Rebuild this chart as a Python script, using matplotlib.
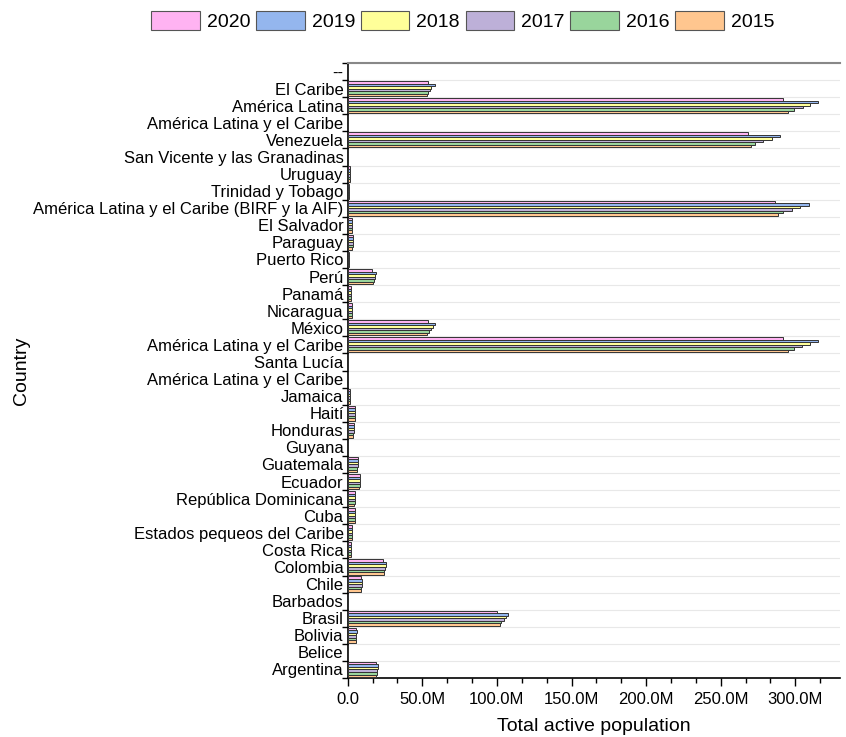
import numpy as np
import matplotlib
matplotlib.use('Agg')
import matplotlib.pyplot as plt
from matplotlib.patches import Patch
from matplotlib.ticker import FuncFormatter, AutoMinorLocator, FixedLocator

plt.rcParams['font.family'] = ['Liberation Sans', 'DejaVu Sans']

# categories listed bottom -> top, as drawn on the y axis
countries = ['Argentina', 'Belice', 'Bolivia', 'Brasil', 'Barbados', 'Chile', 'Colombia',
             'Costa Rica', 'Estados pequeos del Caribe', 'Cuba', 'República Dominicana',
             'Ecuador', 'Guatemala', 'Guyana', 'Honduras', 'Haití', 'Jamaica',
             'América Latina y el Caribe', 'Santa Lucía', 'América Latina y el Caribe',
             'México', 'Nicaragua', 'Panamá', 'Perú', 'Puerto Rico', 'Paraguay',
             'El Salvador', 'América Latina y el Caribe (BIRF y la AIF)',
             'Trinidad y Tobago', 'Uruguay', 'San Vicente y las Granadinas', 'Venezuela',
             'América Latina y el Caribe', 'América Latina', 'El Caribe', '--']

years = ['2020', '2019', '2018', '2017', '2016', '2015']
colors = ['#FFB3F2', '#94B6EE', '#FFFF99', '#BDB0D8', '#99D59C', '#FFC68F']

# values in millions
v2020 = [19.0, 0.17, 5.6, 100.0, 0.14, 8.9, 23.5, 2.3, 3.0, 5.1, 4.8, 8.0, 6.8, 0.29, 4.0,
         5.0, 1.4, 0, 0.09, 292.0, 53.7, 3.0, 1.9, 16.5, 1.1, 3.4, 2.8, 286.6, 0.62, 1.7,
         0.05, 268.0, 0, 292.0, 53.7, 0]
v2019 = [20.6, 0.18, 5.9, 107.5, 0.15, 9.9, 26.0, 2.5, 3.2, 5.2, 5.0, 8.4, 7.0, 0.30, 4.3,
         5.1, 1.5, 0, 0.09, 315.0, 58.4, 3.1, 2.1, 19.0, 1.2, 3.6, 3.0, 309.0, 0.66, 1.8,
         0.05, 290.0, 0, 315.0, 58.4, 0]
v2018 = [20.3, 0.17, 5.8, 106.0, 0.15, 9.7, 25.5, 2.4, 3.2, 5.2, 4.9, 8.3, 6.8, 0.30, 4.1,
         5.0, 1.5, 0, 0.09, 310.0, 57.0, 3.1, 2.0, 18.5, 1.2, 3.5, 3.0, 303.0, 0.66, 1.8,
         0.05, 284.6, 0, 310.0, 56.0, 0]
v2017 = [19.9, 0.17, 5.6, 104.5, 0.15, 9.4, 25.0, 2.3, 3.1, 5.2, 4.7, 8.2, 6.6, 0.30, 4.0,
         4.9, 1.4, 0, 0.09, 304.6, 56.0, 3.0, 2.0, 18.0, 1.2, 3.4, 2.9, 298.0, 0.66, 1.8,
         0.05, 278.5, 0, 305.0, 55.0, 0]
v2016 = [19.5, 0.16, 5.4, 103.0, 0.15, 9.2, 24.5, 2.3, 3.1, 5.2, 4.6, 8.0, 6.4, 0.29, 3.8,
         4.8, 1.4, 0, 0.09, 299.0, 54.5, 2.9, 1.9, 17.5, 1.2, 3.3, 2.9, 292.0, 0.66, 1.8,
         0.05, 273.0, 0, 299.0, 54.0, 0]
v2015 = [19.2, 0.16, 5.3, 102.0, 0.15, 9.0, 24.0, 2.3, 3.0, 5.2, 4.5, 7.8, 6.2, 0.29, 3.7,
         4.7, 1.4, 0, 0.09, 295.0, 53.0, 2.9, 1.9, 17.1, 1.2, 3.2, 2.8, 288.6, 0.67, 1.7,
         0.05, 270.0, 0, 295.0, 53.0, 0]
series = [v2020, v2019, v2018, v2017, v2016, v2015]

fig = plt.figure(figsize=(8.46, 7.37), dpi=100)
ax = fig.add_axes([0.411, 0.080, 0.582, 0.8345])

y = np.arange(len(countries))
h = 0.148
for i, vals in enumerate(series):
    ax.barh(y + (2.5 - i) * h, np.array(vals) * 1e6, height=h, color=colors[i],
            edgecolor='#333333', linewidth=0.7, zorder=3)

ax.set_ylim(-0.5, len(countries) - 0.5)
ax.set_xlim(0, 330e6)

ax.set_yticks(y)
ax.set_yticklabels(countries, fontsize=12)
ax.yaxis.set_minor_locator(FixedLocator(np.arange(-0.5, len(countries), 1)))
ax.tick_params(axis='y', which='major', length=0, pad=3)
ax.tick_params(axis='y', which='minor', length=4, width=1, direction='out')
ax.grid(axis='y', which='minor', color='#e8e8e8', linewidth=0.8, zorder=0)

ax.set_xticks(np.arange(0, 301e6, 50e6))
ax.xaxis.set_major_formatter(FuncFormatter(lambda v, p: '0.0' if v == 0 else '%.1fM' % (v / 1e6)))
ax.xaxis.set_minor_locator(AutoMinorLocator(3))
ax.tick_params(axis='x', which='major', length=6, width=1, labelsize=12, pad=4)
ax.tick_params(axis='x', which='minor', length=3.5, width=1)

for s in ['left', 'bottom']:
    ax.spines[s].set_linewidth(1.2)
ax.spines['top'].set_color('#888888')
ax.spines['top'].set_linewidth(1.5)
ax.spines['right'].set_visible(False)

ax.set_xlabel('Total active population', fontsize=14, labelpad=8)
ax.set_ylabel('Country', fontsize=14)
ax.yaxis.set_label_coords(-0.645, 0.5)

handles = [Patch(facecolor=c, edgecolor='#555555', linewidth=0.8, label=yr) for c, yr in zip(colors, years)]
fig.legend(handles=handles, loc='center', bbox_to_anchor=(0.547, 0.971), ncol=6, frameon=False,
           fontsize=14, handlelength=2.5, handleheight=1.1, handletextpad=0.35, columnspacing=0.3)

fig.savefig('out.png', dpi=100)
